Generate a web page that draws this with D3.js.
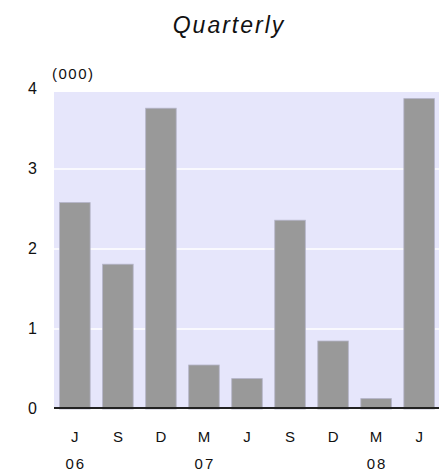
<!DOCTYPE html>
<html><head><meta charset="utf-8">
<script src="https://cdn.jsdelivr.net/npm/d3@7/dist/d3.min.js"></script>
<style>body{margin:0;background:#fff}svg{display:block}</style>
</head><body>
<script>
const categories = ["J","S","D","M","J","S","D","M","J"];
const years = ["06","","","07","","","","08",""];
const values = [2.58, 1.81, 3.76, 0.55, 0.38, 2.36, 0.85, 0.13, 3.88];
const yTicks = [0,1,2,3,4];
const subtitle = "Quarterly";
const unitLabel = "(000)";

const W = 439, H = 473;
const svg = d3.select("body").append("svg").attr("width", W).attr("height", H);
const font = "Arial, 'Liberation Sans', sans-serif";

const plotL = 54, plotR = 439, plotT = 92, plotB = 408;
const y = d3.scaleLinear().domain([0,4]).range([409, 89]);
const x = d3.scaleBand().domain(d3.range(categories.length)).range([54, 440]).paddingInner(0.29).paddingOuter(0.13);

svg.append("rect").attr("x", plotL).attr("y", plotT).attr("width", plotR-plotL).attr("height", plotB-plotT).attr("fill", "#e6e6fb");

svg.selectAll("line.grid").data(yTicks.filter(d=>d>0 && d<4)).enter().append("line")
  .attr("x1", plotL).attr("x2", plotR).attr("y1", d=>y(d)).attr("y2", d=>y(d))
  .attr("stroke", "#ffffff").attr("stroke-width", 1.5);

svg.selectAll("rect.bar").data(values).enter().append("rect")
  .attr("x", (d,i)=>x(i)).attr("width", x.bandwidth())
  .attr("y", d=>y(d)).attr("height", d=>y(0)-y(d))
  .attr("fill", "#999999").attr("stroke", "#b4b4c8").attr("stroke-width", 0.8);

svg.append("line").attr("x1", plotL).attr("x2", plotR).attr("y1", 408).attr("y2", 408)
  .attr("stroke", "#222").attr("stroke-width", 2);

svg.selectAll("text.yt").data(yTicks).enter().append("text")
  .attr("x", 37).attr("y", d=>y(d)+1).attr("text-anchor","end").attr("dominant-baseline","middle")
  .attr("font-family", font).attr("font-size", 16).attr("fill","#111").text(d=>d);

svg.selectAll("text.xm").data(categories).enter().append("text")
  .attr("x", (d,i)=>x(i)+x.bandwidth()/2).attr("y", 442).attr("text-anchor","middle")
  .attr("font-family", font).attr("font-size", 15).attr("fill","#111").text(d=>d);

svg.selectAll("text.xy").data(years).enter().append("text")
  .attr("x", (d,i)=>x(i)+x.bandwidth()/2 + 1).attr("y", 469).attr("text-anchor","middle")
  .attr("font-family", font).attr("font-size", 15).attr("letter-spacing", 2).attr("fill","#111").text(d=>d);

svg.append("text").attr("x", 52).attr("y", 79).attr("font-family", font).attr("font-size", 15)
  .attr("letter-spacing", 1.5).attr("fill","#111").text(unitLabel);

svg.append("text").attr("x", 229).attr("y", 33).attr("text-anchor","middle").attr("font-family", font)
  .attr("font-style","italic").attr("font-size", 23).attr("letter-spacing", 2).attr("fill","#111").text(subtitle);
</script>
</body></html>
